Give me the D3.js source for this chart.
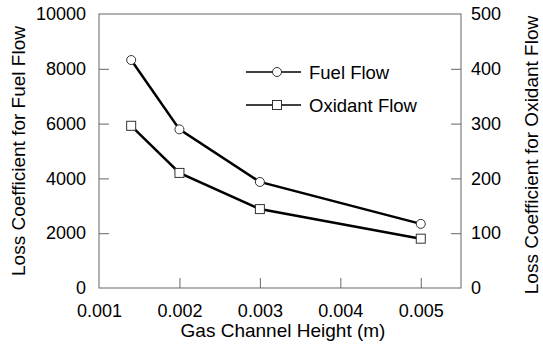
<!DOCTYPE html>
<html>
<head>
<meta charset="utf-8">
<script src="https://cdn.jsdelivr.net/npm/d3@7"></script>
<style>
  body { margin: 0; background: #fff; }
  #chart { width: 543px; height: 353px; }
  text { font-family: "Liberation Sans", Arial, sans-serif; fill: #000; }
</style>
</head>
<body>
<div id="chart"></div>
<script>
// data
const heights = [0.0014, 0.002, 0.003, 0.005]
const fuelLoss = [8320, 5790, 3870, 2340]
const oxidantLoss = [296, 210, 144, 90]
const xTicks = [0.001, 0.002, 0.003, 0.004, 0.005]
const leftTicks = [0, 2000, 4000, 6000, 8000, 10000]
const rightTicks = [0, 100, 200, 300, 400, 500]

const width = 543, height = 353
const m = {left: 99, right: 82, top: 14, bottom: 65}

const svg = d3.select("#chart").append("svg")
    .attr("width", width)
    .attr("height", height)

const x = d3.scaleLinear().domain([0.001, 0.0055]).range([m.left, width - m.right])
const yL = d3.scaleLinear().domain([0, 10000]).range([height - m.bottom, m.top])
const yR = d3.scaleLinear().domain([0, 500]).range([height - m.bottom, m.top])

const axisColor = "#666"
const tickFont = "18px"
const titleFont = "19px"

// frame
svg.append("rect")
    .attr("x", x.range()[0]).attr("y", m.top)
    .attr("width", x.range()[1] - x.range()[0])
    .attr("height", yL.range()[0] - m.top)
    .attr("fill", "none").attr("stroke", axisColor).attr("stroke-width", 1)

function styleAxis(g) {
    g.select(".domain").remove()
    g.selectAll(".tick line").attr("stroke", axisColor)
    g.selectAll(".tick text").style("font-size", tickFont).attr("fill", "#000")
}

svg.append("g")
    .attr("transform", `translate(0,${yL.range()[0]})`)
    .call(d3.axisBottom(x).tickValues(xTicks).tickFormat(d3.format(".3f"))
        .tickSizeInner(-10).tickSizeOuter(0).tickPadding(16))
    .call(styleAxis)

svg.append("g")
    .attr("transform", `translate(${m.left},0)`)
    .call(d3.axisLeft(yL).tickValues(leftTicks).tickFormat(d3.format("d"))
        .tickSizeInner(-10).tickSizeOuter(0).tickPadding(13))
    .call(styleAxis)

svg.append("g")
    .attr("transform", `translate(${width - m.right},0)`)
    .call(d3.axisRight(yR).tickValues(rightTicks).tickFormat(d3.format("d"))
        .tickSizeInner(-10).tickSizeOuter(0).tickPadding(10))
    .call(styleAxis)

// hide the tick lines sitting on the frame corners
svg.selectAll(".tick").filter(d => d === 0 || d === 0.001 || d === 10000 || d === 500)
    .select("line").remove()

// axis titles
svg.append("text")
    .attr("x", (x.range()[0] + x.range()[1]) / 2 + 3).attr("y", 337)
    .attr("text-anchor", "middle").style("font-size", titleFont)
    .text("Gas Channel Height (m)")

svg.append("text")
    .attr("transform", `translate(25,${(m.top + yL.range()[0]) / 2}) rotate(-90)`)
    .attr("text-anchor", "middle").style("font-size", titleFont)
    .text("Loss Coefficient for Fuel Flow")

svg.append("text")
    .attr("transform", `translate(538,${(m.top + yL.range()[0]) / 2 + 4}) rotate(-90)`)
    .attr("text-anchor", "middle").style("font-size", titleFont)
    .text("Loss Coefficient for Oxidant Flow")

// series
const fuel = heights.map((h, i) => ({x: h, y: fuelLoss[i]}))
const oxid = heights.map((h, i) => ({x: h, y: oxidantLoss[i]}))

svg.append("path")
    .datum(fuel)
    .attr("fill", "none").attr("stroke", "#000").attr("stroke-width", 2.5)
    .attr("d", d3.line().x(d => x(d.x)).y(d => yL(d.y)))

svg.append("path")
    .datum(oxid)
    .attr("fill", "none").attr("stroke", "#000").attr("stroke-width", 2.5)
    .attr("d", d3.line().x(d => x(d.x)).y(d => yR(d.y)))

svg.selectAll(".fuelPt").data(fuel).join("circle")
    .attr("class", "fuelPt")
    .attr("cx", d => x(d.x)).attr("cy", d => yL(d.y)).attr("r", 4.5)
    .attr("fill", "#fff").attr("stroke", "#333").attr("stroke-width", 1)

svg.selectAll(".oxPt").data(oxid).join("rect")
    .attr("class", "oxPt")
    .attr("x", d => x(d.x) - 4.5).attr("y", d => yR(d.y) - 4.5)
    .attr("width", 9).attr("height", 9)
    .attr("fill", "#fff").attr("stroke", "#333").attr("stroke-width", 1)

// legend
const legend = svg.append("g")
const rows = [{label: "Fuel Flow", y: 72, shape: "circle"}, {label: "Oxidant Flow", y: 105, shape: "square"}]
rows.forEach(r => {
    legend.append("line")
        .attr("x1", 246).attr("x2", 301).attr("y1", r.y).attr("y2", r.y)
        .attr("stroke", "#000").attr("stroke-width", 1.5)
    if (r.shape == "circle") {
        legend.append("circle").attr("cx", 277).attr("cy", r.y).attr("r", 4.5)
            .attr("fill", "#fff").attr("stroke", "#333")
    } else {
        legend.append("rect").attr("x", 272.5).attr("y", r.y - 4.5).attr("width", 9).attr("height", 9)
            .attr("fill", "#fff").attr("stroke", "#333")
    }
    legend.append("text").attr("x", 309).attr("y", r.y + 6.5)
        .style("font-size", "18.5px").text(r.label)
})
</script>
</body>
</html>
